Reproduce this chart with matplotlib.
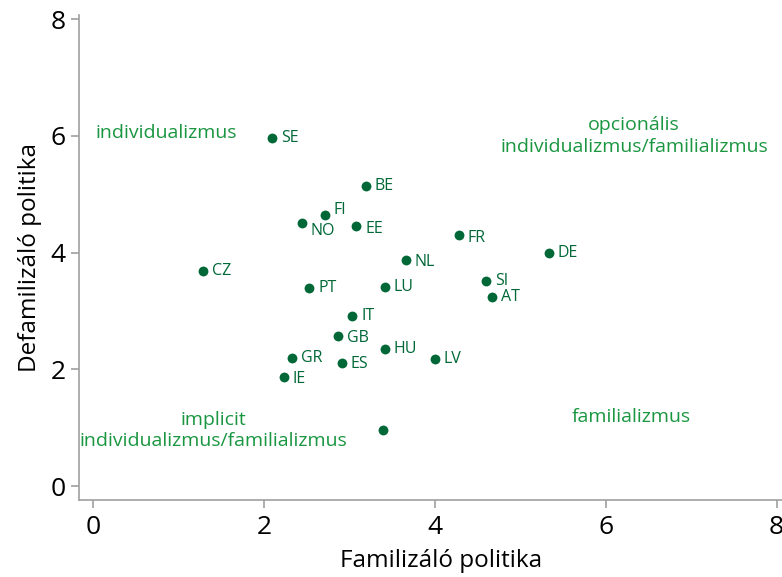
import matplotlib.pyplot as plt

# data
countries = ["SE", "BE", "FI", "NO", "EE", "FR", "DE", "CZ", "NL", "SI", "AT",
             "PT", "LU", "IT", "GB", "HU", "GR", "ES", "LV", "IE", ""]
familizalo = [2.09, 3.19, 2.71, 2.44, 3.08, 4.28, 5.33, 1.28, 3.66, 4.60, 4.67,
              2.53, 3.41, 3.03, 2.87, 3.41, 2.33, 2.91, 4.00, 2.23, 3.39]
defamilizalo = [5.96, 5.14, 4.65, 4.50, 4.45, 4.30, 3.99, 3.68, 3.87, 3.51, 3.24,
                3.40, 3.41, 2.91, 2.57, 2.34, 2.20, 2.11, 2.17, 1.86, 0.96]

# label offsets in pixels, dy positive = down
label_dy = {"FI": -5, "NO": 8, "EE": 3, "FR": 3, "NL": 2, "GB": 2, "IE": 2, "ES": 1}

quadrants = ["individualizmus",
             "opcionális\nindividualizmus/familializmus",
             "implicit\nindividualizmus/familializmus",
             "familializmus"]
quad_x = [0.86, 6.33, 1.41, 6.30]
quad_y = [6.04, 6.0, 0.95, 1.19]

plt.rcParams['font.family'] = ['Open Sans', 'DejaVu Sans']

point_color = "#006837"
text_color = "#1a9641"
gray = "#a0a0a0"

fig = plt.figure(figsize=(7.82, 5.77), dpi=100)
# the original axes run a bit past the right edge of the image
ax = fig.add_axes([0.101, 0.1334, 0.926, 0.8406])

ax.scatter(familizalo, defamilizalo, s=50, color=point_color, zorder=3, linewidths=0)

px = 0.72  # points per pixel at 100 dpi
for c, x, y in zip(countries, familizalo, defamilizalo):
    if not c:
        continue
    dy = label_dy.get(c, 0)
    ax.annotate(c, (x, y), xytext=(9 * px, -dy * px), textcoords="offset points",
                ha="left", va="center", fontsize=11.5, color=point_color)

for t, x, y in zip(quadrants, quad_x, quad_y):
    ax.text(x, y, t, ha="center", va="center", fontsize=14, color=text_color,
            linespacing=1.25)

ax.set_xlim(-0.167, 8.31)
ax.set_ylim(-0.24, 8.07)
ax.set_xticks([0, 2, 4, 6, 8])
ax.set_yticks([0, 2, 4, 6, 8])

for s in ["top", "right"]:
    ax.spines[s].set_visible(False)
for s in ["left", "bottom"]:
    ax.spines[s].set_color(gray)
    ax.spines[s].set_linewidth(1.2)
ax.tick_params(axis="both", colors=gray, labelcolor="black", labelsize=19,
               length=6, width=1.2)
ax.tick_params(axis="x", pad=5)

ax.set_xlabel("Familizáló politika", fontsize=17.5, labelpad=6)
ax.set_ylabel("Defamilizáló politika", fontsize=17.5, labelpad=6)

fig.savefig("out.png", dpi=100)
